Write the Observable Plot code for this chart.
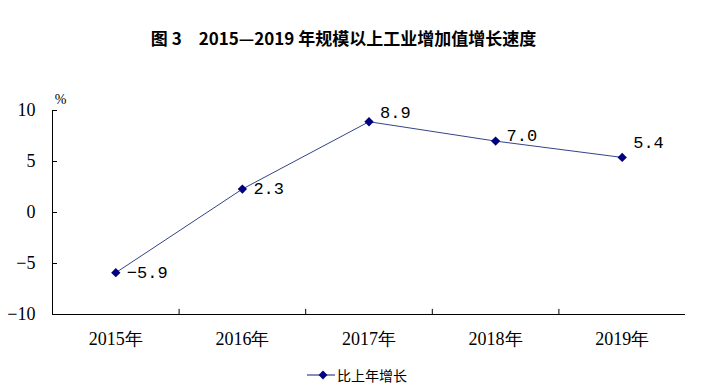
<!DOCTYPE html>
<html>
<head>
<meta charset="utf-8">
<script src="https://cdn.jsdelivr.net/npm/d3@7"></script>
<script src="https://cdn.jsdelivr.net/npm/@observablehq/plot@0.6"></script>
<style>
  html, body { margin: 0; padding: 0; background: #fff; }
  #wrap { position: relative; width: 705px; height: 392px; overflow: hidden; }
  #title { position: absolute; left: 0; top: 27px; width: 687px; text-align: center;
    font-family: "Noto Sans CJK SC", "Noto Sans", sans-serif; font-weight: bold; font-size: 17px; color: #000; line-height: 22px; white-space: pre; }
  #chart { position: absolute; left: 0; top: 60px; }
  #legend { position: absolute; left: 307px; top: 364px; height: 22px; display: flex; align-items: center;
    font-family: "Noto Sans CJK SC", sans-serif; font-size: 14px; color: #000; }
</style>
</head>
<body>
<div id="wrap">
  <div id="title">图 3　2015—2019 年规模以上工业增加值增长速度</div>
  <div id="chart"></div>
  <div id="legend"></div>
</div>
<script>
const years = ["2015年", "2016年", "2017年", "2018年", "2019年"];
const growth = [-5.9, 2.3, 8.9, 7.0, 5.4];
const yTicks = [-10, -5, 0, 5, 10];
const seriesName = "比上年增长";
const unitLabel = "%";

const data = years.map((year, i) => ({ i, year, value: growth[i] }));
const labelDy = [0, 0, -9, -6, -15];

const lineColor = "#34438a";
const markerColor = "#000080";
const serif = "'Liberation Serif', 'DejaVu Serif', serif";
const mono = "'Liberation Mono', 'DejaVu Sans Mono', monospace";
const fmtY = d => d < 0 ? "\u2212" + Math.abs(d) : String(d);
const fmtV = d => (d < 0 ? "\u2212" : "") + Math.abs(d).toFixed(1);

const width = 705, height = 292, marginLeft = 52, marginRight = 20;
const bandPx = (width - marginLeft - marginRight) / years.length;
const tickLen = 5 / bandPx;

const chart = Plot.plot({
  width, height,
  marginLeft, marginRight, marginTop: 50, marginBottom: 38,
  x: { type: "linear", domain: [-0.5, years.length - 0.5], axis: null },
  y: { domain: [-10, 10], axis: null },
  style: { background: "#fff", overflow: "visible" },
  marks: [
    Plot.ruleX([-0.5], { stroke: "#000", strokeWidth: 1 }),
    Plot.ruleY([-10], { stroke: "#000", strokeWidth: 1 }),
    Plot.ruleY(yTicks, { y: d => d, x1: -0.5, x2: -0.5 + tickLen, stroke: "#000" }),
    Plot.text(yTicks, { x: -0.5, y: d => d, text: fmtY, dx: -17, textAnchor: "end", fontFamily: serif, fontSize: 18, fill: "#000" }),
    Plot.ruleX(d3.range(years.length - 1).map(i => i + 0.5), { x: d => d, y1: -10, y2: -10 + 0.5, stroke: "#000" }),
    Plot.text(data, { x: "i", y: () => -10, text: "year", dy: 25, fontFamily: serif, fontSize: 18, fill: "#000" }),
    Plot.text([unitLabel], { x: () => -0.5, y: () => 10, text: d => d, dx: 8, dy: -11, fontFamily: serif, fontSize: 14, fill: "#000", textAnchor: "middle" }),
    Plot.line(data, { x: "i", y: "value", stroke: lineColor, strokeWidth: 1 }),
    Plot.dot(data, { x: "i", y: "value", symbol: "diamond2", r: 4.2, fill: markerColor, stroke: "none" }),
    ...data.map((d, k) => Plot.text([d], { x: "i", y: "value", text: e => fmtV(e.value), dx: 11, dy: labelDy[k], textAnchor: "start", fontFamily: mono, fontSize: 17, fill: "#000" }))
  ]
});
document.getElementById("chart").appendChild(chart);

// legend
const lg = d3.select("#legend");
const ls = lg.append("svg").attr("width", 30).attr("height", 22);
ls.append("line").attr("x1", 0).attr("x2", 28).attr("y1", 11).attr("y2", 11).attr("stroke", lineColor).attr("stroke-width", 1.2);
ls.append("path").attr("d", d3.symbol(d3.symbolDiamond2, 50)()).attr("transform", "translate(16,11)").attr("fill", markerColor);
lg.append("span").text(seriesName);
</script>
</body>
</html>
